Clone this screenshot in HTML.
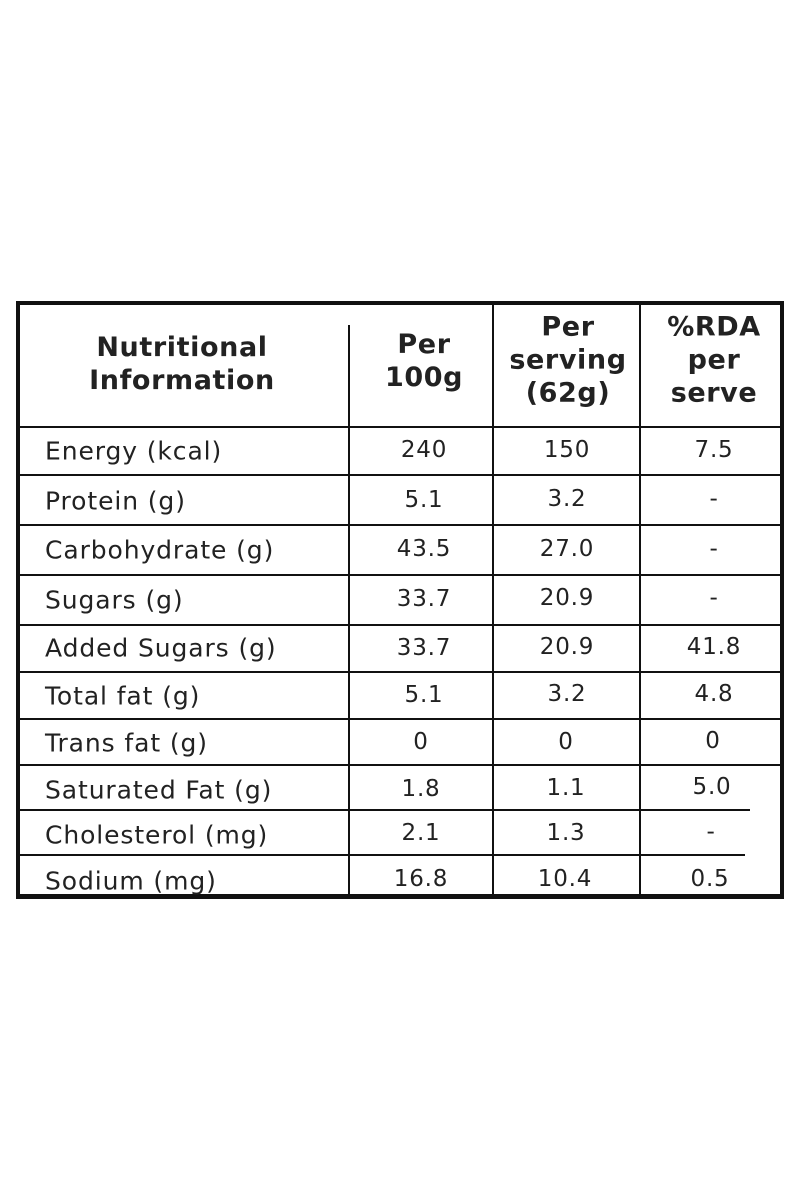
<!DOCTYPE html>
<html><head><style>
body{margin:0;width:800px;height:1200px;background:#fff;position:relative;font-family:"DejaVu Sans","Liberation Sans",sans-serif;color:#222;overflow:hidden}
.b{position:absolute;background:#111}
.t{position:absolute;font-size:23px;white-space:nowrap;transform:translate(-50%,-50%);letter-spacing:0.8px}
.l{position:absolute;font-size:25px;white-space:nowrap;transform:translateY(-50%);left:45px;letter-spacing:0.9px}
.h{position:absolute;font-size:27px;font-weight:bold;text-align:center;line-height:33px;transform:translate(-50%,-50%);white-space:nowrap;letter-spacing:0.6px}
</style></head><body>
<div class="b" style="left:16px;top:301px;width:768px;height:4px"></div>
<div class="b" style="left:16px;top:894px;width:768px;height:5px"></div>
<div class="b" style="left:16px;top:301px;width:4px;height:598px"></div>
<div class="b" style="left:780px;top:301px;width:4px;height:598px"></div>
<div class="b" style="left:348px;top:325px;width:2px;height:570px"></div>
<div class="b" style="left:492px;top:305px;width:2px;height:590px"></div>
<div class="b" style="left:639px;top:305px;width:2px;height:590px"></div>
<div class="b" style="left:20px;top:426px;width:760px;height:2px"></div>
<div class="b" style="left:20px;top:474px;width:760px;height:2px"></div>
<div class="b" style="left:20px;top:524px;width:760px;height:2px"></div>
<div class="b" style="left:20px;top:574px;width:760px;height:2px"></div>
<div class="b" style="left:20px;top:624px;width:760px;height:2px"></div>
<div class="b" style="left:20px;top:671px;width:760px;height:2px"></div>
<div class="b" style="left:20px;top:718px;width:760px;height:2px"></div>
<div class="b" style="left:20px;top:764px;width:760px;height:2px"></div>
<div class="b" style="left:20px;top:809px;width:730px;height:2px"></div>
<div class="b" style="left:20px;top:854px;width:725px;height:2px"></div>
<div class="h" style="left:182px;top:364px">Nutritional<br>Information</div>
<div class="h" style="left:424px;top:361px">Per<br>100g</div>
<div class="h" style="left:568px;top:360px">Per<br>serving<br>(62g)</div>
<div class="h" style="left:714px;top:360px">%RDA<br>per<br>serve</div>
<div class="l" style="top:451px">Energy (kcal)</div><div class="t" style="left:424px;top:450px">240</div><div class="t" style="left:567px;top:450px">150</div><div class="t" style="left:714px;top:450px">7.5</div>
<div class="l" style="top:501px">Protein (g)</div><div class="t" style="left:424px;top:500px">5.1</div><div class="t" style="left:567px;top:499px">3.2</div><div class="t" style="left:714px;top:499px">-</div>
<div class="l" style="top:550px">Carbohydrate (g)</div><div class="t" style="left:424px;top:549px">43.5</div><div class="t" style="left:567px;top:549px">27.0</div><div class="t" style="left:714px;top:549px">-</div>
<div class="l" style="top:600px">Sugars (g)</div><div class="t" style="left:424px;top:599px">33.7</div><div class="t" style="left:567px;top:598px">20.9</div><div class="t" style="left:714px;top:598px">-</div>
<div class="l" style="top:648px">Added Sugars (g)</div><div class="t" style="left:424px;top:648px">33.7</div><div class="t" style="left:567px;top:647px">20.9</div><div class="t" style="left:714px;top:647px">41.8</div>
<div class="l" style="top:696px">Total fat (g)</div><div class="t" style="left:424px;top:695px">5.1</div><div class="t" style="left:567px;top:694px">3.2</div><div class="t" style="left:714px;top:694px">4.8</div>
<div class="l" style="top:743px">Trans fat (g)</div><div class="t" style="left:421px;top:742px">0</div><div class="t" style="left:566px;top:742px">0</div><div class="t" style="left:713px;top:741px">0</div>
<div class="l" style="top:790px">Saturated Fat (g)</div><div class="t" style="left:421px;top:789px">1.8</div><div class="t" style="left:566px;top:788px">1.1</div><div class="t" style="left:712px;top:787px">5.0</div>
<div class="l" style="top:835px">Cholesterol (mg)</div><div class="t" style="left:421px;top:833px">2.1</div><div class="t" style="left:566px;top:833px">1.3</div><div class="t" style="left:711px;top:832px">-</div>
<div class="l" style="top:881px">Sodium (mg)</div><div class="t" style="left:421px;top:879px">16.8</div><div class="t" style="left:565px;top:879px">10.4</div><div class="t" style="left:710px;top:879px">0.5</div>
</body></html>
